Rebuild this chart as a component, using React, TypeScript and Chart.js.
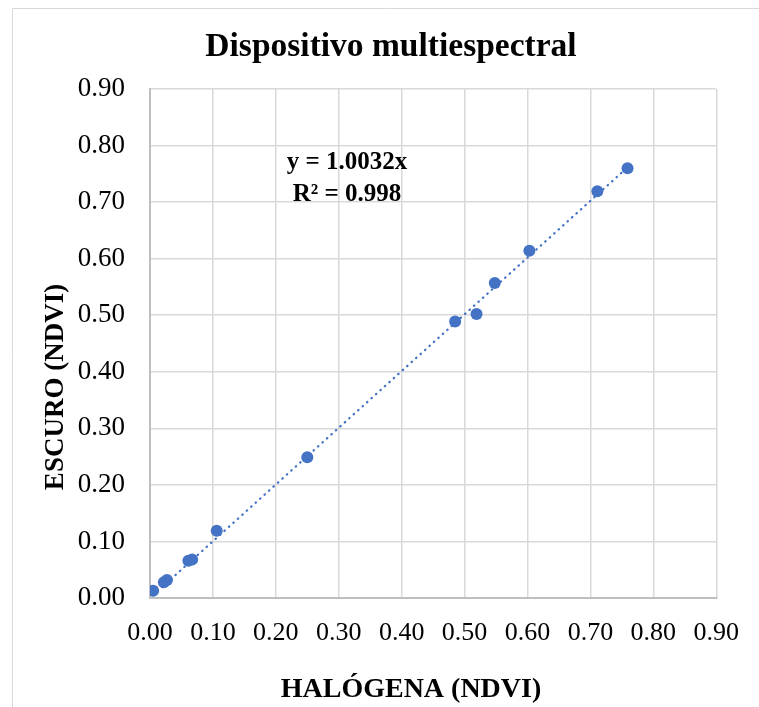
import { useEffect, useRef } from "react";
import { Chart, registerables } from "chart.js";

Chart.register(...registerables);

// Data
const halogena = [0.005, 0.022, 0.027, 0.061, 0.067, 0.106, 0.25, 0.485, 0.519, 0.548, 0.603, 0.711, 0.759];
const escuro = [0.013, 0.028, 0.032, 0.066, 0.068, 0.119, 0.249, 0.489, 0.502, 0.557, 0.614, 0.719, 0.76];
const trendSlope = 1.0032;
const rSquaredText = "0.998";

const chartTitle = "Dispositivo multiespectral";
const xTitle = "HALÓGENA (NDVI)";
const yTitle = "ESCURO (NDVI)";
const axisMin = 0;
const axisMax = 0.9;
const axisStep = 0.1;

const SERIF = '"Liberation Serif", "Times New Roman", serif';
const BLUE = "#4472C4";

export default function App() {
  const canvasRef = useRef<HTMLCanvasElement | null>(null);

  useEffect(() => {
    const canvas = canvasRef.current;
    if (!canvas) return;

    const points = halogena.map((x, i) => ({ x, y: escuro[i] }));
    const xMinData = Math.min(...halogena);
    const xMaxData = Math.max(...halogena);
    const trend = [
      { x: xMinData, y: trendSlope * xMinData },
      { x: xMaxData, y: trendSlope * xMaxData },
    ];

    const decorPlugin = {
      id: "decor",
      beforeDraw(chart: any) {
        const ctx = chart.ctx;
        ctx.save();
        ctx.fillStyle = "#ffffff";
        ctx.fillRect(0, 0, chart.width, chart.height);
        ctx.strokeStyle = "#d9d9d9";
        ctx.lineWidth = 1;
        ctx.beginPath();
        ctx.moveTo(12.5, chart.height);
        ctx.lineTo(12.5, 8.5);
        ctx.lineTo(chart.width, 8.5);
        ctx.stroke();
        ctx.restore();
      },
      afterDraw(chart: any) {
        const ctx = chart.ctx;
        ctx.save();
        ctx.fillStyle = "#000000";
        ctx.textAlign = "center";
        ctx.textBaseline = "alphabetic";
        ctx.font = `bold 33.5px ${SERIF}`;
        ctx.fillText(chartTitle, 391, 56);
        ctx.font = `bold 25px ${SERIF}`;
        ctx.fillText(`y = ${trendSlope.toFixed(4)}x`, 347, 169);
        ctx.fillText(`R² = ${rSquaredText}`, 347, 201);
        ctx.font = `bold 28px ${SERIF}`;
        ctx.fillText(xTitle, 411, 697);
        ctx.translate(62.5, 387);
        ctx.rotate(-Math.PI / 2);
        ctx.font = `bold 27px ${SERIF}`;
        ctx.fillText(yTitle, 0, 0);
        ctx.restore();
      },
    };

    const tickFmt = (v: any) => Number(v).toFixed(2);

    const chart = new Chart(canvas, {
      type: "scatter",
      data: {
        datasets: [
          {
            type: "line",
            label: "Tendencia",
            data: trend,
            borderColor: BLUE,
            borderWidth: 2.25,
            borderDash: [0.5, 5.5],
            borderCapStyle: "round",
            pointRadius: 0,
            fill: false,
            order: 2,
          } as any,
          {
            label: "Datos",
            data: points,
            backgroundColor: BLUE,
            borderColor: BLUE,
            borderWidth: 0,
            pointRadius: 6,
            order: 1,
          },
        ],
      },
      options: {
        responsive: false,
        animation: false,
        layout: { padding: { top: 89, right: 39, bottom: 0, left: 0 } },
        plugins: {
          legend: { display: false },
          title: { display: false },
          tooltip: { enabled: false },
        },
        scales: {
          x: {
            type: "linear",
            min: axisMin,
            max: axisMax,
            ticks: {
              stepSize: axisStep,
              callback: tickFmt,
              font: { family: SERIF, size: 26 },
              color: "#000000",
              padding: 20,
              maxRotation: 0,
            },
            grid: { color: "#d9d9d9", lineWidth: 1.5, drawTicks: false },
            border: { color: "#bfbfbf", width: 2 },
            afterFit(scale: any) {
              scale.height = 109;
            },
          },
          y: {
            type: "linear",
            min: axisMin,
            max: axisMax,
            ticks: {
              stepSize: axisStep,
              callback: tickFmt,
              font: { family: SERIF, size: 27 },
              color: "#000000",
              padding: 25,
            },
            grid: { color: "#d9d9d9", lineWidth: 1.5, drawTicks: false },
            border: { color: "#bfbfbf", width: 2 },
            afterFit(scale: any) {
              scale.width = 150;
            },
          },
        },
      },
      plugins: [decorPlugin],
    });

    return () => chart.destroy();
  }, []);

  return (
    <div style={{ position: "fixed", left: 0, top: 0, width: 759, height: 707, background: "#fff" }}>
      <canvas ref={canvasRef} width={759} height={707} style={{ display: "block", width: 759, height: 707 }} />
    </div>
  );
}
